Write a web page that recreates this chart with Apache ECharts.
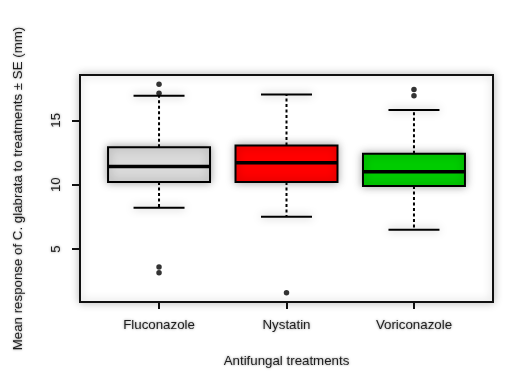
<!DOCTYPE html>
<html>
<head>
<meta charset="utf-8">
<script src="https://cdn.jsdelivr.net/npm/echarts@6/dist/echarts.min.js"></script>
<style>
  html, body { margin: 0; padding: 0; background: #fff; }
  #chart { width: 523px; height: 385px; }
</style>
</head>
<body>
<div id="chart"></div>
<script>
// Treatment groups and five-number summaries (mm)
var categories = ['Fluconazole', 'Nystatin', 'Voriconazole'];
var lowerWhisker = [8.2, 7.5, 6.5];
var q1 = [10.2, 10.2, 9.9];
var median = [11.4, 11.7, 11.0];
var q3 = [12.9, 13.05, 12.4];
var upperWhisker = [16.9, 17.0, 15.8];
var boxColors = ['#d9d9d9', '#ff0000', '#00cc00'];
// Outlying observations per group
var outlierGroup = [1, 1, 1, 1, 2, 3, 3];
var outlierValue = [17.8, 17.1, 3.6, 3.15, 1.6, 17.4, 16.9];
var yTicks = [5, 10, 15];

var boxData = categories.map(function (c, i) {
  return [i + 1, lowerWhisker[i], q1[i], median[i], q3[i], upperWhisker[i]];
});
var outlierData = outlierValue.map(function (v, i) { return [outlierGroup[i], v]; });

var textStyleBase = {
  fontFamily: 'Liberation Sans, Arial, sans-serif',
  fontSize: 13.3,
  color: '#1e1e1e',
  textShadowColor: 'rgba(0,0,0,0.45)',
  textShadowBlur: 2.5
};

function renderBox(params, api) {
  var x = api.value(0);
  var lo = api.value(1), b1 = api.value(2), md = api.value(3), b3 = api.value(4), hi = api.value(5);
  var boxHalf = 0.4, capHalf = 0.2;
  var pL = api.coord([x - boxHalf, b3]);
  var pR = api.coord([x + boxHalf, b1]);
  var cL = api.coord([x - capHalf, hi]);
  var cR = api.coord([x + capHalf, hi]);
  var dL = api.coord([x - capHalf, lo]);
  var dR = api.coord([x + capHalf, lo]);
  var mL = api.coord([x - boxHalf, md]);
  var mR = api.coord([x + boxHalf, md]);
  var cx = api.coord([x, hi])[0];
  var yHi = cL[1], yLo = dL[1], yQ3 = pL[1], yQ1 = pR[1];
  var halo = { shadowBlur: 8, shadowColor: 'rgba(0,0,0,0.35)' };
  var lineBase = { stroke: '#000', lineWidth: 2 };
  return {
    type: 'group',
    children: [
      { type: 'line', shape: { x1: cx, y1: yQ3, x2: cx, y2: yHi },
        style: Object.assign({ lineDash: [3, 2.5] }, lineBase) },
      { type: 'line', shape: { x1: cx, y1: yQ1, x2: cx, y2: yLo },
        style: Object.assign({ lineDash: [3, 2.5] }, lineBase) },
      { type: 'line', shape: { x1: cL[0], y1: yHi, x2: cR[0], y2: yHi },
        style: Object.assign({}, lineBase, halo) },
      { type: 'line', shape: { x1: dL[0], y1: yLo, x2: dR[0], y2: yLo },
        style: Object.assign({}, lineBase, halo) },
      { type: 'rect', shape: { x: pL[0], y: yQ3, width: pR[0] - pL[0], height: yQ1 - yQ3 },
        style: Object.assign({ fill: boxColors[params.dataIndex], stroke: '#000', lineWidth: 2 }, halo) },
      { type: 'line', shape: { x1: mL[0], y1: mL[1], x2: mR[0], y2: mR[1] },
        style: { stroke: '#000', lineWidth: 3.5 } }
    ]
  };
}

var chart = echarts.init(document.getElementById('chart'), null, { renderer: 'canvas' });
chart.setOption({
  backgroundColor: '#fff',
  animation: false,
  grid: {
    left: 80, right: 30, top: 75, bottom: 83,
    show: true, borderColor: '#111', borderWidth: 2,
    shadowBlur: 8, shadowColor: 'rgba(0,0,0,0.25)', backgroundColor: '#fff'
  },
  xAxis: {
    type: 'value', min: 0.38, max: 3.62,
    name: 'Antifungal treatments', nameLocation: 'middle', nameGap: 53,
    nameTextStyle: textStyleBase,
    axisLine: { show: false },
    splitLine: { show: false },
    axisTick: { show: true, length: 7, lineStyle: { color: '#111', width: 2 }, customValues: [1, 2, 3] },
    axisLabel: Object.assign({ margin: 17, customValues: [1, 2, 3],
      formatter: function (v) { return categories[Math.round(v) - 1] || ''; } }, textStyleBase)
  },
  yAxis: {
    type: 'value', min: 0.88, max: 18.52,
    name: 'Mean response of C. glabrata to treatments \u00b1 SE (mm)',
    nameLocation: 'middle', nameGap: 55, nameRotate: 90,
    nameTextStyle: textStyleBase,
    axisLine: { show: false },
    splitLine: { show: false },
    axisTick: { show: true, length: 8, lineStyle: { color: '#111', width: 2 }, customValues: yTicks },
    axisLabel: Object.assign({ margin: 17, rotate: 90, customValues: yTicks }, textStyleBase)
  },
  series: [
    {
      type: 'custom',
      renderItem: renderBox,
      data: boxData,
      encode: { x: 0, y: [1, 2, 3, 4, 5] },
      z: 2
    },
    {
      type: 'scatter',
      data: outlierData,
      symbol: 'circle',
      symbolSize: 5.5,
      itemStyle: { color: '#000' },
      z: 3
    }
  ]
});
</script>
</body>
</html>
